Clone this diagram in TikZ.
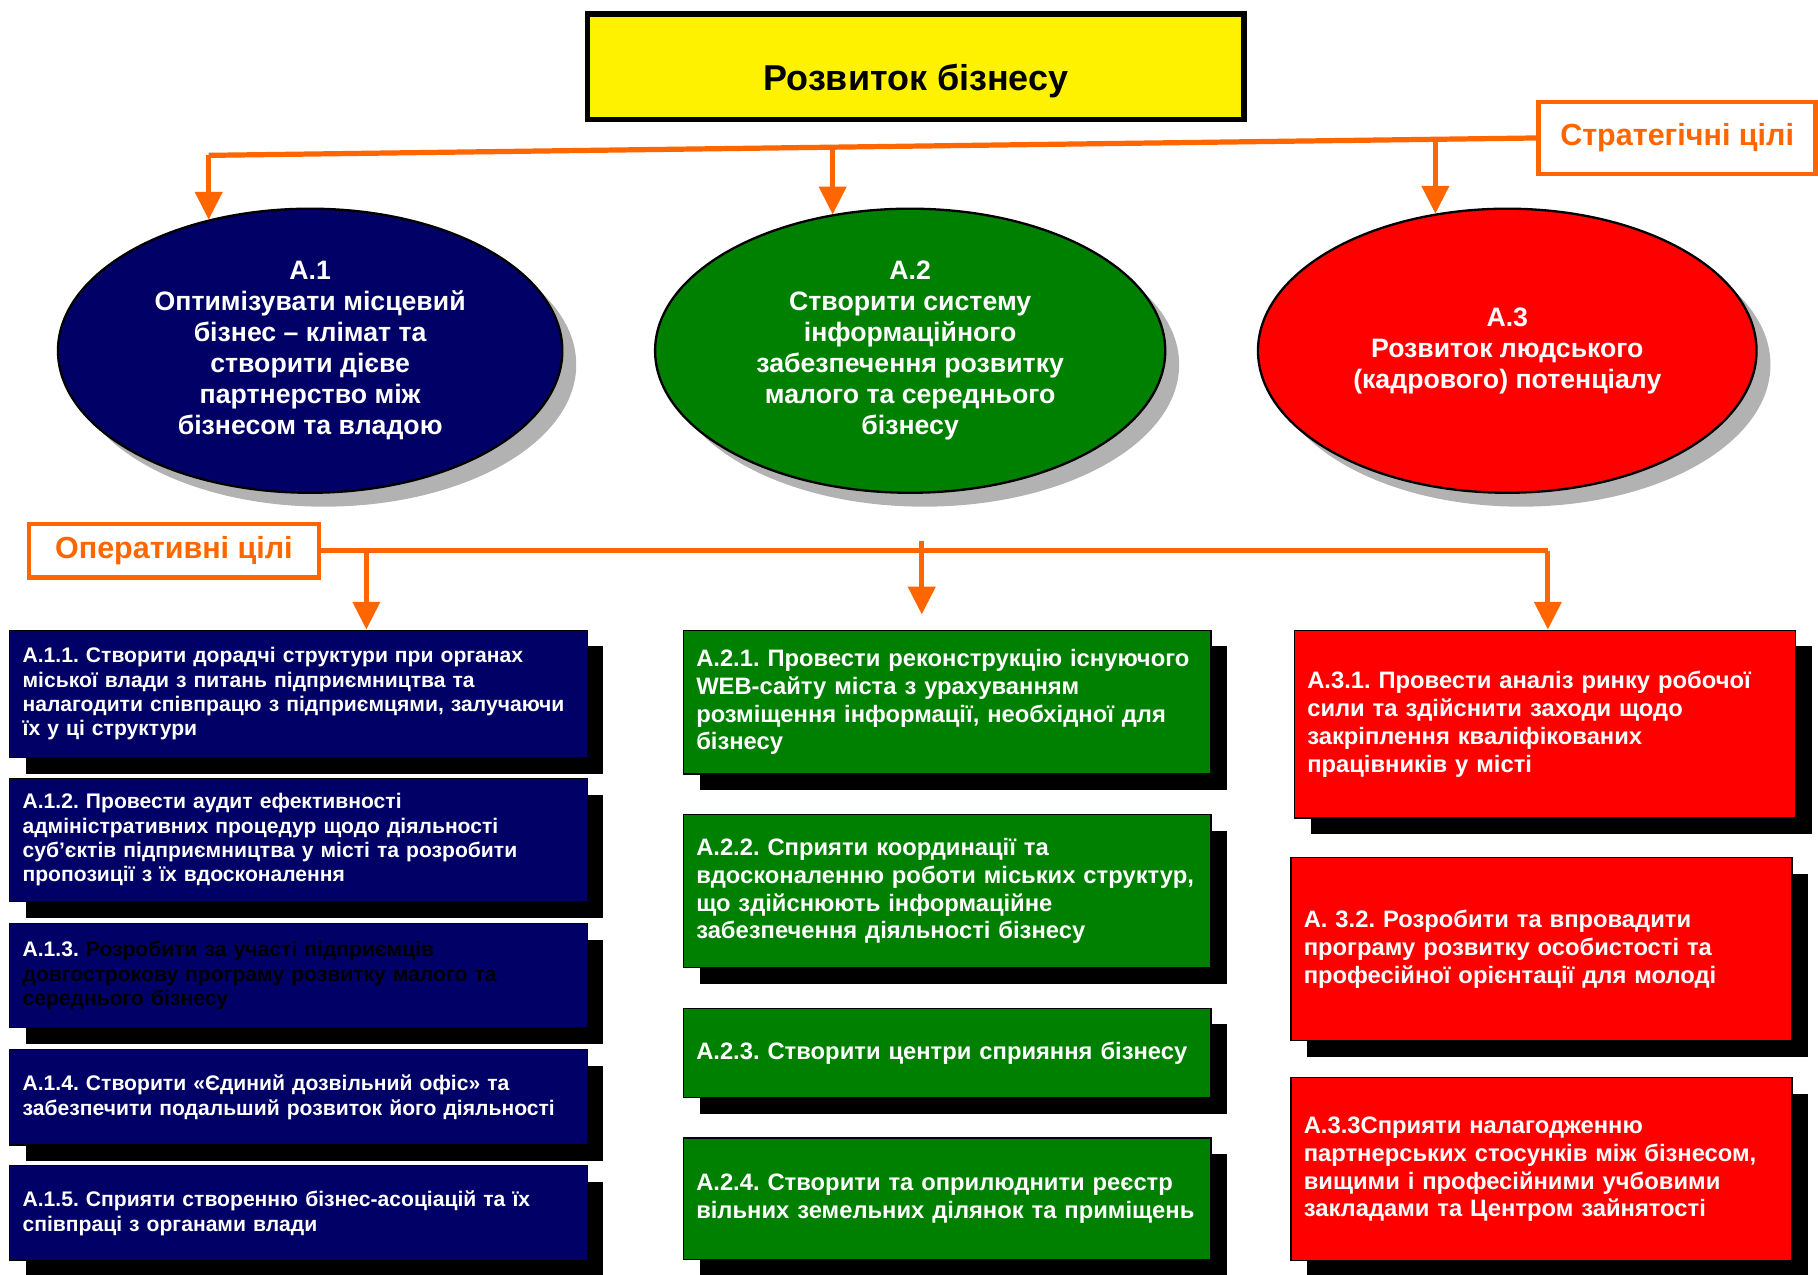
\documentclass[tikz,border=0pt]{standalone}
\usepackage{fontspec}
\setmainfont{Liberation Sans}
\usetikzlibrary{shapes.geometric,shadows,arrows.meta,calc}
\definecolor{navyblue}{HTML}{000066}
\definecolor{goalgreen}{HTML}{008000}
\definecolor{goalred}{HTML}{FF0000}
\definecolor{orng}{HTML}{FF6600}
\definecolor{shadowgrey}{HTML}{B2B2B2}
\frenchspacing
\tikzset{
  orline/.style={draw=orng, line width=4.5pt},
  orarrow/.style={orline, -{Triangle[width=23pt,length=24pt]}},
  tag/.style={draw=orng, line width=4pt, fill=white, text=orng, inner sep=0pt,
    font=\fontsize{26.3}{30}\selectfont\bfseries},
  goal/.style={ellipse, draw=black, line width=2pt, text=white, align=center,
    inner sep=0pt, minimum width=435pt, minimum height=245pt,
    font=\fontsize{23}{26.8}\selectfont\bfseries,
    drop shadow={shadow xshift=12pt, shadow yshift=-12pt, fill=shadowgrey, opacity=1}},
  task/.style={draw=black, line width=1pt, anchor=north west, align=left,
    text=white, inner xsep=11pt, inner ysep=0pt,
    drop shadow={shadow xshift=14pt, shadow yshift=-14pt, fill=black, opacity=1}},
  col1/.style={task, fill=navyblue, minimum width=498pt, text width=476pt,
    font=\fontsize{18.2}{21}\selectfont\bfseries},
  col2/.style={task, fill=goalgreen, minimum width=455pt, text width=433pt,
    font=\fontsize{20.5}{24}\selectfont\bfseries},
  col3/.style={task, fill=goalred, minimum width=432pt, text width=410pt,
    font=\fontsize{20.5}{24}\selectfont\bfseries},
}

\begin{document}
\begin{tikzpicture}[x=1pt, y=-1pt]
  \useasboundingbox (0,0) rectangle (1568,1099);
  % title and strategic goals
  \node[draw=black, line width=4.5pt, fill=yellow, minimum width=566pt, minimum height=91pt,
    text height=41pt, text depth=0pt, font=\fontsize{31}{36}\selectfont\bfseries]
    (title) at (790,57.5) {Розвиток бізнесу};
  \node[tag, minimum width=239pt, minimum height=62pt] (strat) at (1446.5,119) {Стратегічні цілі};
  \node[goal, fill=navyblue] (a1) at (267.5,302.5)
    {A.1\\Оптимізувати місцевий\\бізнес – клімат та\\створити дієве\\партнерство між\\бізнесом та владою};
  \node[goal, fill=goalgreen, minimum width=440pt] (a2) at (785,302.5)
    {A.2\\Створити систему\\інформаційного\\забезпечення розвитку\\малого та середнього\\бізнесу};
  \node[goal, fill=goalred, minimum width=430pt] (a3) at (1300,302.5)
    {A.3\\Розвиток людського\\(кадрового) потенціалу};
  \coordinate (s1) at (180,134);
  \coordinate (s2) at ($(s1)!0.47!(strat.west)$);
  \coordinate (s3) at ($(s1)!0.924!(strat.west)$);
  \draw[orline] (strat.west) -- (s1);
  \draw[orarrow] (s1) -- (s1 |- a1.128);
  \draw[orarrow] (s2) -- (s2 |- a2.120);
  \draw[orarrow] (s3) -- (s3 |- a3.118);
  % operational goals
  \node[tag, minimum width=250pt, minimum height=46pt] (oper) at (150,475) {Оперативні цілі};
  \node[col1, minimum height=110pt] (b11) at (8,543)
    {A.1.1. Створити дорадчі структури при органах\\міської влади з питань підприємництва та\\налагодити співпрацю з підприємцями, залучаючи\\їх у ці структури};
  \node[col1, minimum height=106pt] (b12) at (8,671)
    {A.1.2. Провести аудит ефективності\\адміністративних процедур щодо діяльності\\суб’єктів підприємництва у місті та розробити\\пропозиції з їх вдосконалення};
  \node[col1, minimum height=90pt] (b13) at (8,796)
    {A.1.3. \color{black}Розробити за участі підприємців\\довгострокову програму розвитку малого та\\середнього бізнесу};
  \node[col1, minimum height=82pt] (b14) at (8,905)
    {A.1.4. Створити «Єдиний дозвільний офіс» та\\забезпечити подальший розвиток його діяльності};
  \node[col1, minimum height=82pt] (b15) at (8,1005)
    {A.1.5. Сприяти створенню бізнес-асоціацій та їх\\співпраці з органами влади};
  \node[col2, minimum height=124pt] (b21) at (589,543)
    {A.2.1. Провести реконструкцію існуючого\\WEB-сайту міста з урахуванням\\розміщення інформації, необхідної для\\бізнесу};
  \node[col2, minimum height=132pt] (b22) at (589,702)
    {A.2.2. Сприяти координації та\\вдосконаленню роботи міських структур,\\що здійснюють інформаційне\\забезпечення діяльності бізнесу};
  \node[col2, minimum height=77pt] (b23) at (589,869)
    {A.2.3. Створити центри сприяння бізнесу};
  \node[col2, minimum height=105pt] (b24) at (589,981)
    {A.2.4. Створити та оприлюднити реєстр\\вільних земельних ділянок та приміщень};
  \node[col3, minimum height=162pt] (b31) at (1116,543)
    {A.3.1. Провести аналіз ринку робочої\\сили та здійснити заходи щодо\\закріплення кваліфікованих\\працівників у місті};
  \node[col3, minimum height=158pt] (b32) at (1113,739)
    {A. 3.2. Розробити та впровадити\\програму розвитку особистості та\\професійної орієнтації для молоді};
  \node[col3, minimum height=158pt] (b33) at (1113,929)
    {A.3.3Сприяти налагодженню\\партнерських стосунків між бізнесом,\\вищими і професійними учбовими\\закладами та Центром зайнятості};
  \coordinate (o1) at (316,475);
  \coordinate (o2) at (795,467);
  \coordinate (o3) at (1335,475);
  \draw[orline] (oper.east) -- (o3);
  \draw[orarrow] (o1) -- (o1 |- b11.north);
  \draw[orarrow, shorten >=13pt] (o2) -- (o2 |- b21.north);
  \draw[orarrow] (o3) -- (o3 |- b31.north);
\end{tikzpicture}
\end{document}
